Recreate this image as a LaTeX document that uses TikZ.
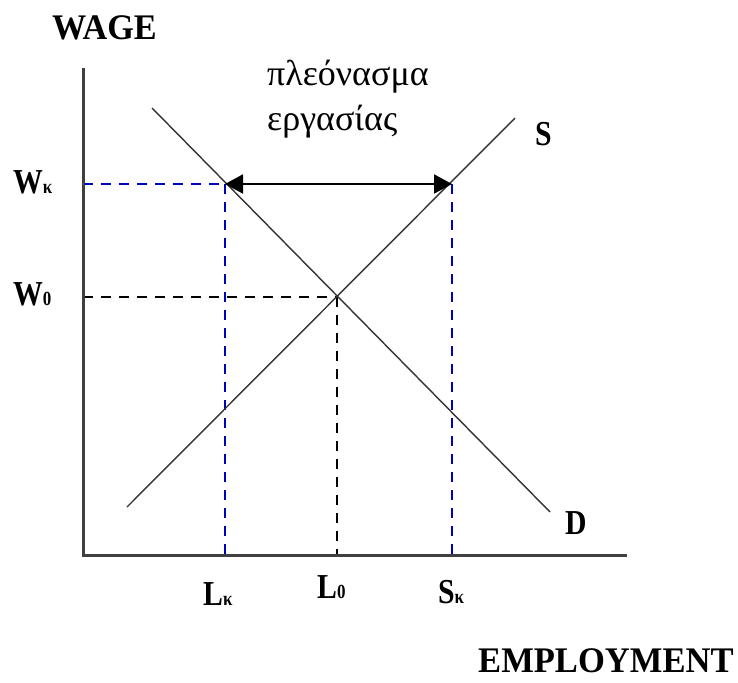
\documentclass[tikz,border=0pt]{standalone}
\usepackage{fontspec}
\setmainfont{Liberation Serif}
\usetikzlibrary{arrows.meta}
\tikzset{
  axis/.style={line width=3pt, draw=black!75},
  curve/.style={line width=1.4pt, draw=black!80},
  bdash/.style={line width=1.5pt, draw=blue!75!black, dash pattern=on 10pt off 8pt},
  kdash/.style={line width=1.5pt, draw=black, dash pattern=on 10pt off 8pt},
  lbl/.style={font=\fontsize{35}{36}\selectfont\bfseries, inner sep=0pt, xscale=0.85, anchor=base west},
  big/.style={font=\fontsize{36}{38}\selectfont\bfseries, inner sep=0pt, anchor=base west},
  greek/.style={font=\fontsize{36}{40}\selectfont, inner sep=0pt, anchor=base west},
  surplusarrow/.style={line width=2pt, {Triangle[length=18pt,width=19pt]}-{Triangle[length=18pt,width=19pt]}},
}
\newcommand{\sbk}{{\fontsize{20}{20}\selectfont κ}}
\newcommand{\sbz}{{\fontsize{20}{20}\selectfont 0}}
\begin{document}
\begin{tikzpicture}[x=1pt,y=-1pt]
\useasboundingbox (0,0) rectangle (738,682);
% key points
\coordinate (O) at (83,555);
\coordinate (Ytop) at (83,68);
\coordinate (Xend) at (627,555);
\coordinate (Dtop) at (152,108);
\coordinate (Dbot) at (550,512);
\coordinate (Sbot) at (127,507);
\coordinate (Stop) at (515,118);
\coordinate (E) at (337,297);
\coordinate (A) at (225,184);
\coordinate (B) at (452,184);
\coordinate (WkY) at (83,184);
\coordinate (W0Y) at (83,297);
\coordinate (LkX) at (225,555);
\coordinate (SkX) at (452,555);
\coordinate (L0X) at (337,555);
% dashed guides
\draw[bdash] (WkY) -- (A);
\draw[bdash] (A) -- (LkX);
\draw[bdash] (B) -- (SkX);
\draw[kdash] (W0Y) -- (E);
\draw[kdash] (E) -- (L0X);
% curves
\draw[curve] (Dtop) -- (Dbot);
\draw[curve] (Sbot) -- (Stop);
% axes
\draw[axis] (Ytop) -- (O) -- (Xend);
% surplus arrow
\draw[surplusarrow] (A) -- (B);
% labels
\node[big, xscale=0.95] (wage) at (52,40) {WAGE};
\node[big, xscale=0.96] (empl) at (478,672) {EMPLOYMENT};
\node[lbl] (wk) at (13,193) {W\sbk};
\node[lbl] (w0) at (13,305) {W\sbz};
\node[lbl] (lk) at (203,605) {L\sbk};
\node[lbl] (l0) at (317,598) {L\sbz};
\node[lbl] (sk) at (438,603) {S\sbk};
\node[lbl] (slbl) at (535,145) {S};
\node[lbl] (dlbl) at (565,534) {D};
\node[greek] (surplus1) at (267,86) {πλεόνασμα};
\node[greek] (surplus2) at (267,130) {εργασίας};
\end{tikzpicture}
\end{document}
